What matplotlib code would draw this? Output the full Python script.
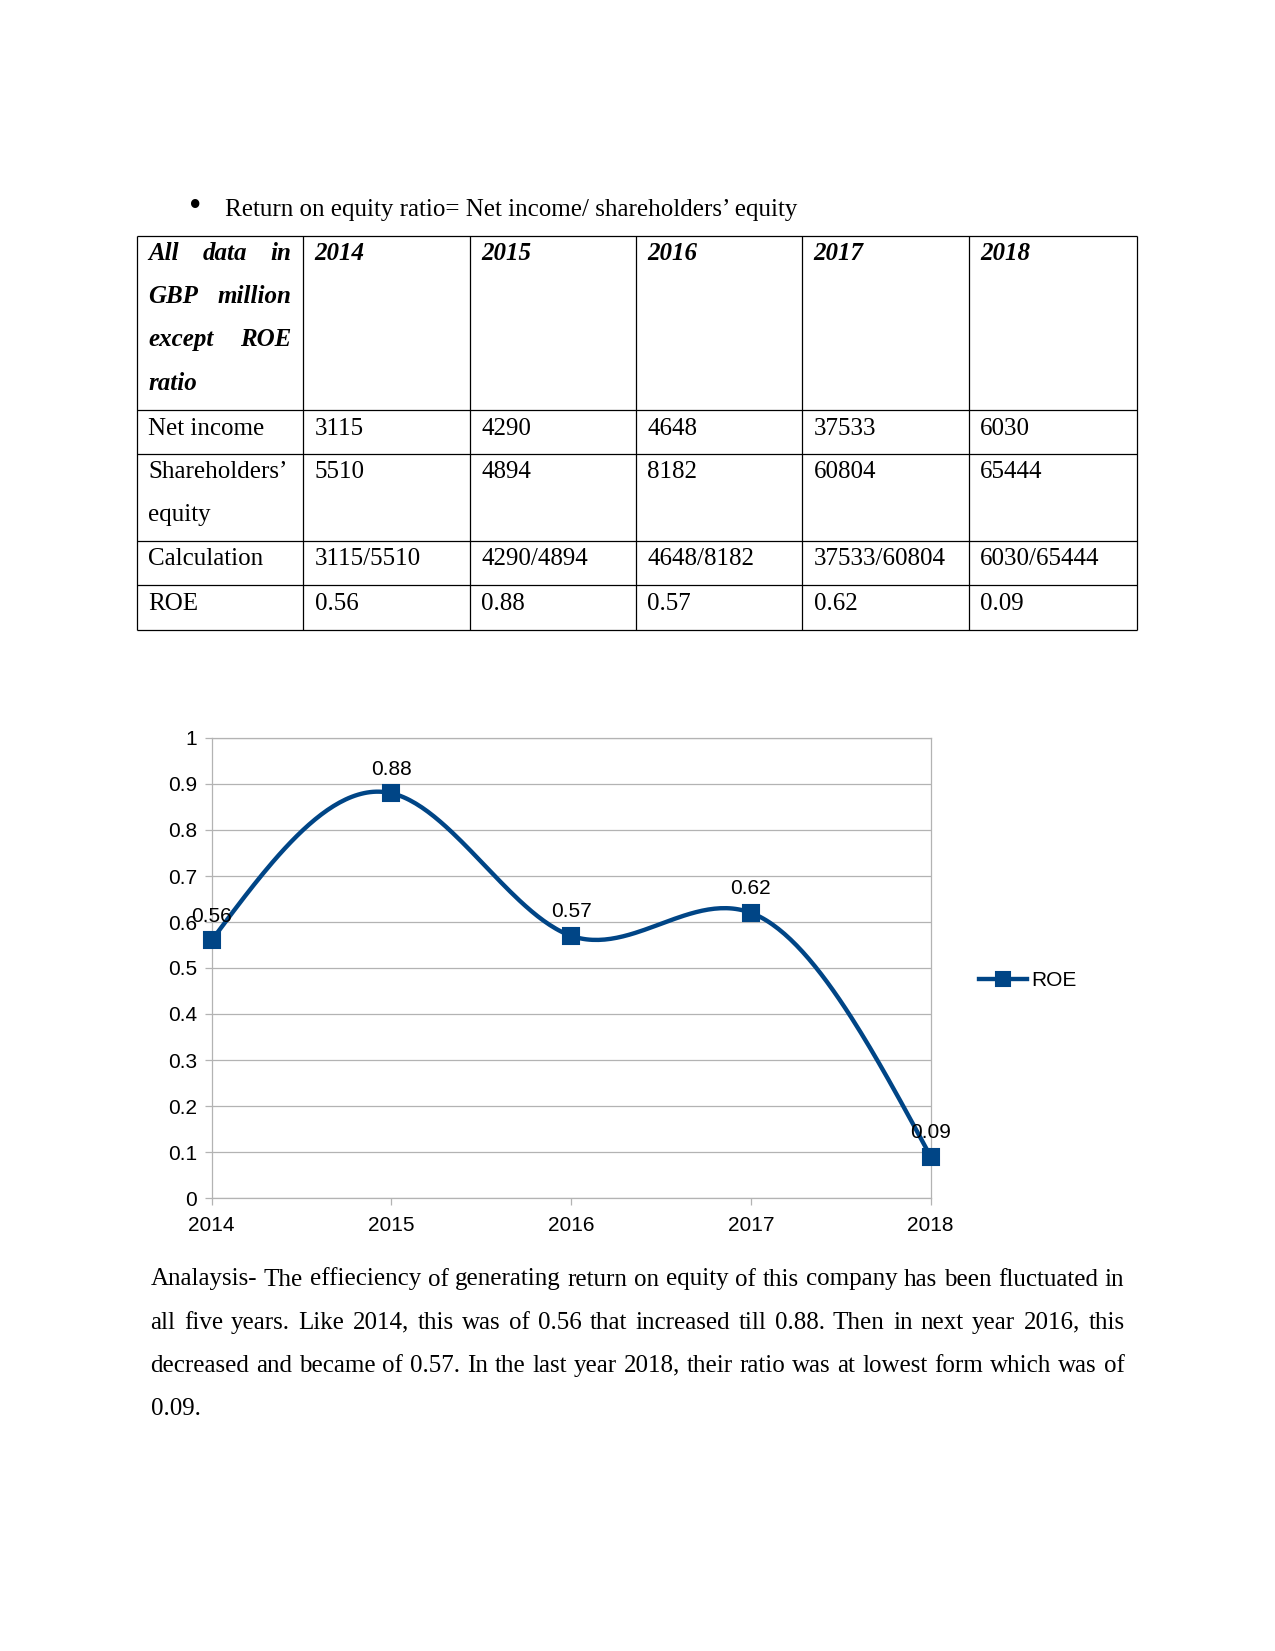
import numpy as np
import matplotlib.pyplot as plt

# table / chart data
years = ['2014', '2015', '2016', '2017', '2018']
net_income = [3115, 4290, 4648, 37533, 6030]
equity = [5510, 4894, 8182, 60804, 65444]
roe = [0.56, 0.88, 0.57, 0.62, 0.09]
roe_text = ['0.56', '0.88', '0.57', '0.62', '0.09']

header_lines = [['All', 'data', 'in'], ['GBP', 'million'], ['except', 'ROE'], ['ratio']]
para_lines = [
    'Analaysis- The effieciency of generating return on equity of this company has been fluctuated in',
    'all five years. Like 2014, this was of 0.56 that increased till 0.88. Then in next year 2016, this',
    'decreased and became of 0.57. In the last year 2018, their ratio was at lowest form which was of',
    '0.09.',
]

W, H = 1275, 1651
SERIF = 'Liberation Serif'
SANS = 'Liberation Sans'
BLUE = '#004586'
GRID = '#b3b3b3'

fig = plt.figure(figsize=(W / 150, H / 150), dpi=150)
page = fig.add_axes([0, 0, 1, 1])
page.set_xlim(0, W)
page.set_ylim(H, 0)
page.axis('off')
rend = fig.canvas.get_renderer()


def justify(words, x0, x1, y, **kw):
    '''place words so the line runs from x0 to x1 (pixel coords)'''
    ts = [page.text(x0, y, w, va='baseline', **kw) for w in words]
    if len(ts) == 1:
        return
    ws = [t.get_window_extent(rend).width for t in ts]
    gap = (x1 - x0 - sum(ws)) / (len(ts) - 1)
    x = x0
    for t, w in zip(ts, ws):
        t.set_x(x)
        x += w + gap


def natural_spline(y, n=60):
    '''natural cubic spline through (i, y[i]) - only for the smoothed look'''
    y = np.asarray(y, float)
    k = len(y)
    A = np.zeros((k, k))
    b = np.zeros(k)
    A[0, 0] = A[-1, -1] = 1
    for i in range(1, k - 1):
        A[i, i - 1:i + 2] = [1, 4, 1]
        b[i] = 6 * (y[i + 1] - 2 * y[i] + y[i - 1])
    M = np.linalg.solve(A, b)
    xs, ys = [], []
    for i in range(k - 1):
        t = np.linspace(0, 1, n)
        s = ((1 - t) * y[i] + t * y[i + 1]
             + ((1 - t) ** 3 - (1 - t)) * M[i] / 6 + (t ** 3 - t) * M[i + 1] / 6)
        xs.append(i + t)
        ys.append(s)
    return np.concatenate(xs), np.concatenate(ys)


# bullet line
page.text(195, 208, '\u2022', fontsize=17, family=SERIF, ha='center', va='center')
page.text(225, 216, 'Return on equity ratio= Net income/ shareholders\u2019 equity',
          fontsize=12, family=SERIF, va='baseline')

# table grid
tl, tr = 137, 1137
row_y = [236, 409.5, 453.8, 541.1, 585.4, 629.6]
col_x = [tl, 303.2, 469.5, 635.9, 802.2, 968.6, tr]
page.hlines(row_y, tl, tr, color='black', lw=0.6)
page.vlines(col_x, row_y[0], row_y[-1], color='black', lw=0.6)

# header row
hdr_base = [260, 303.2, 346.4, 389.5]
for words, yb in zip(header_lines, hdr_base):
    justify(words, 148.4, 291.6, yb, fontsize=12, family=SERIF,
            style='italic', weight='bold')
text_x = [314.8, 481.1, 647.5, 813.8, 980.2]
for x, yr in zip(text_x, years):
    page.text(x, 260, yr, fontsize=12, family=SERIF, style='italic',
              weight='bold', va='baseline')

# body rows
body = dict(fontsize=12, family=SERIF, va='baseline')
page.text(148.4, 434.8, 'Net income', **body)
page.text(148.4, 478, 'Shareholders\u2019', **body)
page.text(148.4, 521.1, 'equity', **body)
page.text(148.4, 565.4, 'Calculation', **body)
page.text(148.4, 609.6, 'ROE', **body)
for i, x in enumerate(text_x):
    page.text(x, 434.8, str(net_income[i]), **body)
    page.text(x, 478, str(equity[i]), **body)
    page.text(x, 565.4, f'{net_income[i]}/{equity[i]}', **body)
    page.text(x, 609.6, roe_text[i], **body)

# analysis paragraph
para_base = [1285.5, 1328.7, 1371.9, 1415.1]
for line, yb in zip(para_lines, para_base):
    if line == para_lines[-1]:
        page.text(150.5, yb, line, **body)
    else:
        justify(line.split(' '), 150.5, 1124.4, yb, fontsize=12, family=SERIF)

# chart
x0, x1, y0, y1 = 211.6, 930.7, 738, 1198
ax = fig.add_axes([x0 / W, 1 - y1 / H, (x1 - x0) / W, (y1 - y0) / H])
xi = np.arange(len(years))
sx, sy = natural_spline(roe)
ax.plot(sx, sy, color=BLUE, lw=2.1, zorder=3, clip_on=False)
ax.plot(xi, roe, ls='none', marker='s', ms=7.8, color=BLUE, zorder=4, clip_on=False)
ax.plot([], [], color=BLUE, lw=2.1, marker='s', ms=7, label='ROE')
for x, v, s in zip(xi, roe, roe_text):
    ax.annotate(s, (x, v), xytext=(0, 11.5), textcoords='offset points',
                ha='center', va='center', fontsize=10, family=SANS, zorder=5)

ax.set_xlim(0, 4)
ax.set_ylim(0, 1)
ax.set_xticks(xi)
ax.set_xticklabels(years)
yt = np.round(np.arange(0, 1.01, 0.1), 1)
ax.set_yticks(yt)
ax.set_yticklabels(['0', '0.1', '0.2', '0.3', '0.4', '0.5', '0.6', '0.7', '0.8', '0.9', '1'])
ax.grid(axis='y', color=GRID, lw=0.6)
ax.set_axisbelow(True)
for sp in ax.spines.values():
    sp.set_color(GRID)
    sp.set_linewidth(0.6)
ax.tick_params(axis='both', color=GRID, width=0.6, length=3.5, labelsize=10)
ax.tick_params(axis='x', pad=5)
ax.tick_params(axis='y', pad=3.5)
for lab in ax.get_xticklabels() + ax.get_yticklabels():
    lab.set_family(SANS)

fig.legend(loc='center left', bbox_to_anchor=(979 / W, 1 - 981 / H), frameon=False,
           prop={'family': SANS, 'size': 10}, handlelength=2.3, handletextpad=0.2,
           borderpad=0, borderaxespad=0)

fig.savefig('out.png', dpi=150)
